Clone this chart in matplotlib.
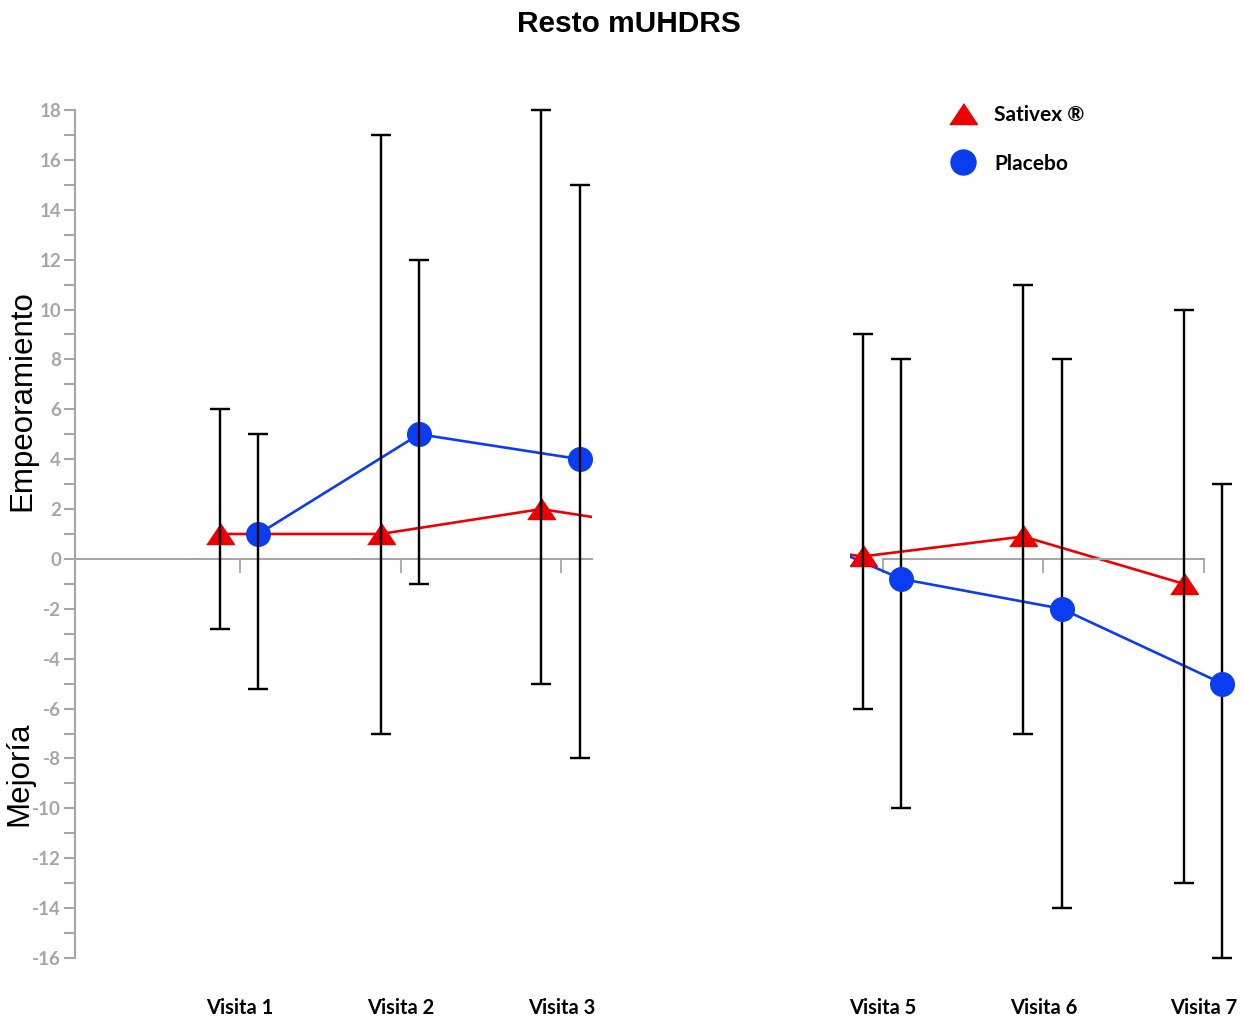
import numpy as np
import matplotlib
matplotlib.use("Agg")
import matplotlib.pyplot as plt
from matplotlib.lines import Line2D
from matplotlib.ticker import MultipleLocator
import matplotlib.transforms as mtransforms

plt.rcParams["font.family"] = ["Lato", "DejaVu Sans"]
plt.rcParams["axes.unicode_minus"] = False

# datos (visita 4 queda oculta en el hueco entre paneles)
visitas = ["Visita 1", "Visita 2", "Visita 3", "Visita 4", "Visita 5", "Visita 6", "Visita 7"]
visita_pos = np.array([1, 2, 3, 4, 5, 6, 7])

sativex_media = np.array([1.0, 1.0, 2.0, 1.0, 0.1, 0.9, -1.0])
sativex_min = np.array([-2.8, -7.0, -5.0, np.nan, -6.0, -7.0, -13.0])
sativex_max = np.array([6.0, 17.0, 18.0, np.nan, 9.0, 11.0, 10.0])

placebo_media = np.array([1.0, 5.0, 4.0, 2.0, -0.8, -2.0, -5.0])
placebo_min = np.array([-5.2, -1.0, -8.0, np.nan, -10.0, -14.0, -16.0])
placebo_max = np.array([5.0, 12.0, 15.0, np.nan, 8.0, 8.0, 3.0])

ROJO = "#ee0000"
AZUL = "#0a3cf0"
GRIS = "#a6a6a6"
tri = [(-1, -0.72), (1, -0.72), (0, 0.78)]

W, H = 1244, 1021
fig = plt.figure(figsize=(W / 100, H / 100), dpi=100)

px = 160.67  # pixeles por visita
def xlim_px(a, b):
    return (1 + (a - 240) / px, 1 + (b - 240) / px)

ax1 = fig.add_axes([75 / W, 63 / H, (592 - 75) / W, 848 / H])
ax2 = fig.add_axes([850 / W, 63 / H, (1244 - 850) / W, 848 / H])
ax1.set_xlim(*xlim_px(75, 592))
ax2.set_xlim(*xlim_px(850, 1244))

xs = visita_pos - 0.125
xp = visita_pos + 0.115

for ax in (ax1, ax2):
    ax.set_ylim(-16, 18)
    ax.patch.set_alpha(0)
    ax.plot(xs, sativex_media, color=ROJO, lw=1.9, zorder=2)
    ax.plot(xp, placebo_media, color=AZUL, lw=1.9, zorder=2)
    ax.plot(xs, sativex_media, ls="none", marker=tri, ms=20, color=ROJO, zorder=3)
    for x, m, lo, hi in ((xs, sativex_media, sativex_min, sativex_max),
                         (xp, placebo_media, placebo_min, placebo_max)):
        eb = ax.errorbar(x, m, yerr=[m - lo, hi - m], fmt="none", ecolor="black",
                         elinewidth=1.6, capsize=7.5, capthick=1.6, zorder=4)
        for art in eb.lines[1] + eb.lines[2]:
            art.set_clip_on(False)
    ax.plot(xp, placebo_media, ls="none", marker="o", ms=17, color=AZUL, zorder=5)

    for s in ("top", "right"):
        ax.spines[s].set_visible(False)
    ax.spines["bottom"].set_position(("data", 0))
    ax.spines["bottom"].set_color(GRIS)
    ax.spines["bottom"].set_linewidth(1.5)
    ax.tick_params(axis="x", direction="out", length=10, width=1.3, color=GRIS,
                   labelbottom=False)
    trans = mtransforms.blended_transform_factory(ax.transData, ax.transAxes)
    lo_x, hi_x = ax.get_xlim()
    ticks = [v for v in visita_pos if lo_x < v < hi_x + 0.1]
    ax.set_xticks(ticks)
    for v in ticks:
        ax.text(v, -0.0585, visitas[v - 1], transform=trans, ha="center", va="center",
                fontsize=14.5, fontweight="bold", color="black")

# panel izquierdo: eje y
ax1.spines["left"].set_color(GRIS)
ax1.spines["left"].set_linewidth(1.5)
ax1.yaxis.set_major_locator(MultipleLocator(2))
ax1.yaxis.set_minor_locator(MultipleLocator(1))
ax1.tick_params(axis="y", which="both", direction="out", length=8, width=1.5,
                color=GRIS, labelcolor=GRIS, labelsize=13.5, pad=2)
for lab in ax1.get_yticklabels():
    lab.set_fontweight("bold")

# panel derecho
ax2.spines["left"].set_visible(False)
ax2.spines["bottom"].set_bounds(5, 7)
ax2.set_yticks([])

fig.text(629 / W, 1 - 24 / H, "Resto mUHDRS", ha="center", va="center",
         fontsize=21.5, fontweight="bold", family="Liberation Sans")
fig.text(22 / W, 1 - 401 / H, "Empeoramiento", rotation=90, ha="center", va="center",
         fontsize=22.5, family="Liberation Sans")
fig.text(19 / W, 1 - 774 / H, "Mejoría", rotation=90, ha="center", va="center",
         fontsize=22.5, family="Liberation Sans")

handles = [Line2D([], [], ls="none", marker=tri, ms=20, color=ROJO),
           Line2D([], [], ls="none", marker="o", ms=18, color=AZUL)]
fig.legend(handles, ["Sativex ®", "Placebo"], loc="upper left",
           bbox_to_anchor=(936 / W, 1 - 95 / H), frameon=False, borderpad=0,
           handlelength=1.6, handletextpad=0.7, labelspacing=1.35,
           prop={"family": ["Lato", "DejaVu Sans"], "weight": "bold", "size": 15})

fig.savefig("out.png", dpi=100)
